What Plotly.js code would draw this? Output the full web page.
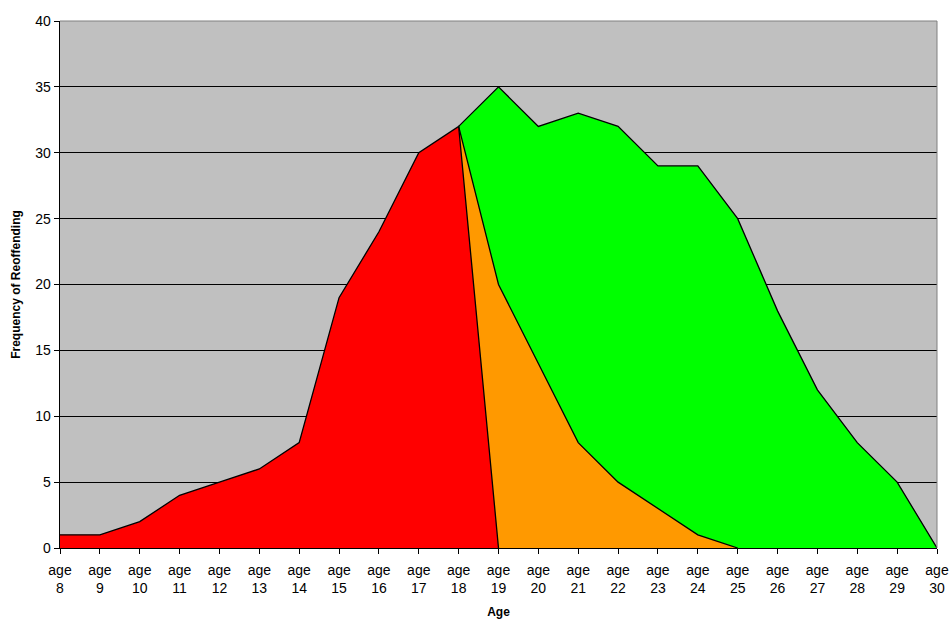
<!DOCTYPE html>
<html>
<head>
<meta charset="utf-8">
<script src="https://cdn.plot.ly/plotly-3.0.1.min.js"></script>
<style>html,body{margin:0;padding:0;background:#fff;}#chart{width:950px;height:619px;}</style>
</head>
<body>
<div id="chart"></div>
<script>
const ages = ["age<br>8","age<br>9","age<br>10","age<br>11","age<br>12","age<br>13","age<br>14","age<br>15","age<br>16","age<br>17","age<br>18","age<br>19","age<br>20","age<br>21","age<br>22","age<br>23","age<br>24","age<br>25","age<br>26","age<br>27","age<br>28","age<br>29","age<br>30"];

const redAges = ages.slice(0, 12);
const redValues = [1, 1, 2, 4, 5, 6, 8, 19, 24, 30, 32, 0];

const orangeAges = ages.slice(10, 18);
const orangeValues = [32, 20, 14, 8, 5, 3, 1, 0];

const greenAges = ages.slice(10, 23);
const greenValues = [32, 35, 32, 33, 32, 29, 29, 25, 18, 12, 8, 5, 0];

const yTicks = [0, 5, 10, 15, 20, 25, 30, 35, 40];

const lineStyle = {color: '#000000', width: 1.3, shape: 'linear'};

const traces = [
  {x: greenAges, y: greenValues, type: 'scatter', mode: 'lines', fill: 'tozeroy', fillcolor: '#00FF00', line: lineStyle, name: 'green', hoverinfo: 'skip'},
  {x: orangeAges, y: orangeValues, type: 'scatter', mode: 'lines', fill: 'tozeroy', fillcolor: '#FF9900', line: lineStyle, name: 'orange', hoverinfo: 'skip'},
  {x: redAges, y: redValues, type: 'scatter', mode: 'lines', fill: 'tozeroy', fillcolor: '#FF0000', line: lineStyle, name: 'red', hoverinfo: 'skip'}
];

const layout = {
  width: 950, height: 619,
  margin: {l: 60, r: 13, t: 21, b: 71, pad: 0},
  paper_bgcolor: '#FFFFFF',
  plot_bgcolor: '#C0C0C0',
  showlegend: false,
  font: {family: 'Liberation Sans, Arial, sans-serif', size: 14, color: '#000000'},
  xaxis: {
    type: 'category',
    categoryorder: 'array',
    categoryarray: ages,
    range: [0, ages.length - 1],
    showgrid: false,
    zeroline: false,
    showline: true, linecolor: '#000000', linewidth: 1.3,
    ticks: 'outside', ticklen: 5, tickcolor: '#000000', tickwidth: 1,
    ticklabelstandoff: 4,
    tickfont: {size: 14, family: 'Liberation Sans, Arial, sans-serif'},
    tickangle: 0,
    automargin: false,
    title: {text: 'Age', font: {size: 12, family: 'Liberation Sans, Arial, sans-serif', weight: 'bold'}, standoff: 12}
  },
  yaxis: {
    range: [0, 40],
    tickvals: yTicks,
    ticktext: yTicks.map(String),
    showgrid: true, gridcolor: '#000000', gridwidth: 1,
    zeroline: false,
    showline: true, linecolor: '#000000', linewidth: 1.3,
    ticks: 'outside', ticklen: 5, tickcolor: '#000000', tickwidth: 1,
    tickfont: {size: 14, family: 'Liberation Sans, Arial, sans-serif'},
    automargin: false,
    title: {text: 'Frequency of Reoffending', font: {size: 12, family: 'Liberation Sans, Arial, sans-serif', weight: 'bold'}, standoff: 12}
  },
  shapes: [
    {type: 'line', xref: 'x domain', yref: 'y domain', x0: 0, x1: 1, y0: 1, y1: 1, line: {color: '#808080', width: 1}},
    {type: 'line', xref: 'x domain', yref: 'y domain', x0: 1, x1: 1, y0: 0, y1: 1, line: {color: '#808080', width: 1}}
  ]
};

Plotly.newPlot('chart', traces, layout, {displayModeBar: false, staticPlot: true});
</script>
</body>
</html>
